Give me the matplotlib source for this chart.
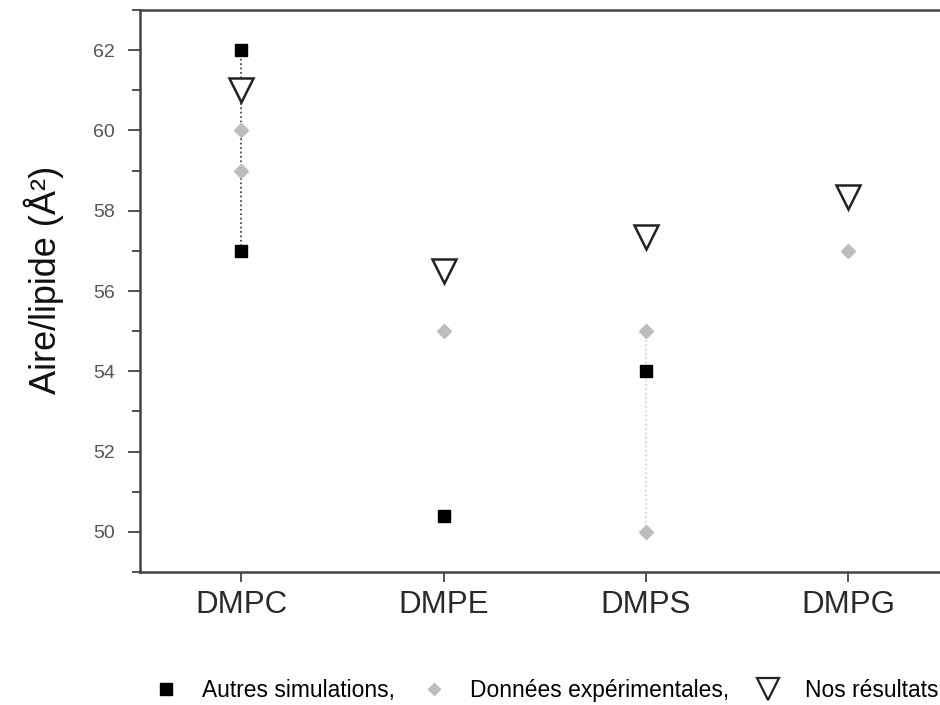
import numpy as np
import matplotlib
matplotlib.use("Agg")
from matplotlib import pyplot as plt
from matplotlib.lines import Line2D
from matplotlib.ticker import MultipleLocator

# Data
lipids = ['DMPC', 'DMPE', 'DMPS', 'DMPG']
sim_x = [1, 1, 2, 3]
sim_y = [62.0, 57.0, 50.4, 54.0]
exp_x = [1, 1, 2, 3, 3, 4]
exp_y = [60.0, 59.0, 55.0, 55.0, 50.0, 57.0]
ours_y = [61.0, 56.5, 57.35, 58.35]

plt.rcParams['font.family'] = ['Liberation Sans', 'DejaVu Sans']

fig = plt.figure(figsize=(9.4, 7.05), dpi=100)
ax = fig.add_axes([0.149, 0.1887, 0.861, 0.797])

ind = np.arange(1, len(lipids) + 1)

# range lines
ax.plot([1, 1], [sim_y[0], sim_y[1]], color='#333333', ls=':', lw=1.2, zorder=1)
ax.plot([3, 3], [exp_y[3], exp_y[4]], color='#cccccc', ls=':', lw=1.2, zorder=1)

ax.plot(sim_x, sim_y, ls='none', marker='s', ms=9, color='black', zorder=3)
ax.plot(exp_x, exp_y, ls='none', marker='D', ms=7, color='#bdbdbd', mec='#bdbdbd', zorder=3)
ax.plot(ind, ours_y, ls='none', marker='v', ms=17, mfc='white', mec='#222222', mew=1.8, zorder=4)

ax.set_xlim(0.5, 4.5)
ax.set_ylim(49, 63)
ax.set_xticks(ind)
ax.set_xticklabels(lipids, fontsize=22.5, color='#2a2a2a')
ax.yaxis.set_major_locator(MultipleLocator(2))
ax.yaxis.set_minor_locator(MultipleLocator(1))
ax.tick_params(axis='y', which='major', direction='out', length=9, width=1.3,
               labelsize=14, labelcolor='#555555', color='#444444', pad=9)
ax.tick_params(axis='y', which='minor', direction='out', length=6, width=1.3, color='#444444')
ax.tick_params(axis='x', direction='out', length=7, width=1.3, color='#444444', pad=6)
for s in ax.spines.values():
    s.set_linewidth(1.8)
    s.set_color('#444444')
ax.set_ylabel('Aire/lipide (Å²)', fontsize=26, color='#111111')
ax.yaxis.set_label_coords(-0.094, 0.52)

handles = [
    Line2D([], [], ls='none', marker='s', ms=8, color='black'),
    Line2D([], [], ls='none', marker='D', ms=6, color='#bdbdbd'),
    Line2D([], [], ls='none', marker='v', ms=16, mfc='white', mec='#222222', mew=1.6),
]
labels = ['Autres simulations,', 'Données expérimentales,', 'Nos résultats']
fig.legend(handles, labels, loc='center', bbox_to_anchor=(0.578, 0.021), ncol=3,
           frameon=False, fontsize=16.4, columnspacing=0.95, handletextpad=0.85,
           handlelength=1.5, borderpad=0)

plt.savefig('out.png', dpi=100)
